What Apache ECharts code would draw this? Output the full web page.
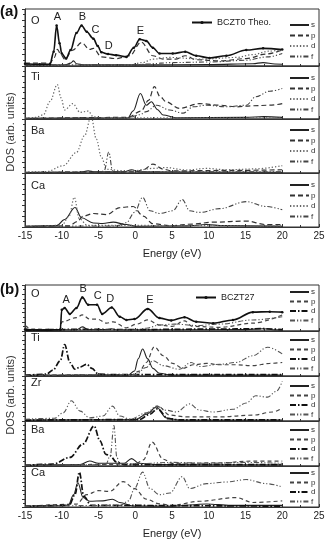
<!DOCTYPE html>
<html lang="en">
<head>
<meta charset="UTF-8">
<script src="https://cdn.jsdelivr.net/npm/echarts@6/dist/echarts.min.js"></script>
<style>
    * { margin: 0; padding: 0; }
    #main { width: 328px; height: 540px; background: #fff; }
</style>
</head>
<body>
<div id="main"></div>
<script>
    // ---- panel (a) BCZT0, [energy eV, DOS] ----
    var aO_tot = [[-15,0.4],[-13,0.3],[-11.6,0.3],[-11.1,2.5],[-10.7,7.1],[-10.3,4],[-10,2.2],[-9.4,1.3],[-8.8,2.8],[-8,5.8],[-7.3,7.1],[-6.6,6],[-5.7,4.8],[-5.1,3.5],[-4.6,2.4],[-3.7,2.1],[-2.6,1.9],[-1.2,1.6],[-0.2,3.2],[0.6,4.7],[1.5,4.4],[2.4,3.2],[3.3,2.2],[5.1,2.2],[6.8,2.5],[8.3,1.8],[10.1,1.4],[12.4,1.8],[15.1,2.8],[17.4,3.1],[20,2.9]];
    var aO_s = [[-15,0.15],[-9.5,0.2],[-8.8,0.5],[-8.4,0.9],[-8,0.4],[-7,0.2],[0,0.2],[10,0.25],[16,0.4],[17.4,0.6],[19,0.35],[20,0.3]];
    var aO_p = [[-15,0.5],[-11.6,0.5],[-11,1.5],[-10.6,2.9],[-10.1,2],[-9.6,1.2],[-8.5,2.8],[-7.3,4.1],[-6.2,2.9],[-5.7,3.1],[-4.6,1.6],[-2.6,1.3],[-0.75,1.8],[0.8,4.2],[2.4,1.8],[3.8,1.2],[5.5,1.2],[6.8,1.8],[8.3,1.1],[11.5,0.9],[15.1,1.3],[17.8,2.1],[20,2.8]];
    var aO_d = [[-15,0.1],[-1,0.15],[1,0.6],[2.4,1.2],[4.7,1.5],[9.2,1.2],[13.7,1.5],[16,2.0],[18.2,2.6],[20,2.9]];
    var aO_f = [[-15,0.2],[0,0.2],[2,0.4],[5,0.6],[10,0.7],[15,1.0],[18,1.6],[20,2.2]];

    var aTi_s = [[-15,0.15],[-1,0.2],[-0.3,1.5],[0.7,4.8],[1.5,2.6],[2.2,3.25],[3,1.8],[3.8,0.75],[5.5,0.25],[15,0.3],[17.5,0.45],[20,0.3]];
    var aTi_p = [[-15,0.1],[-1,0.3],[0.8,1.5],[1.8,3.5],[2.6,6.1],[3.4,4.2],[4.2,3.25],[6.0,2.0],[8.75,2.9],[11.5,2.6],[13.7,2.3],[16,2.5],[18.3,2.6],[20,2.9]];
    var aTi_d = [[-15,0.15],[-13.5,0.3],[-12.5,0.8],[-11.6,3.3],[-10.6,6.5],[-10.1,4],[-9.6,1.7],[-8.5,2.9],[-7.5,1.25],[-6.4,1.5],[-5.7,0.4],[-4,0.2],[0,0.2],[20,0.2]];
    var aTi_f = [[-15,0.1],[-1,0.2],[0.6,0.8],[1.5,1.4],[2.9,2.6],[4.7,1.7],[6.5,1.1],[7.9,2.3],[9.7,2.6],[12.4,2.3],[15.1,2.6],[16.4,4.2],[18.3,5.25],[20,5.75]];

    var aBa_s = [[-15,0.1],[-7.5,0.15],[-6.4,0.4],[-5.5,0.2],[-1.5,0.2],[-0.5,0.6],[0.5,0.2],[20,0.15]];
    var aBa_p = [[-15,0.1],[0,0.2],[1.1,0.6],[2.4,1.65],[3.8,0.7],[5,0.4],[15,0.5],[20,0.6]];
    var aBa_d = [[-15,0.15],[-12.1,0.25],[-9.8,1.35],[-8,3.8],[-6.9,6.9],[-6,10.5],[-5.3,6.3],[-4.6,2.9],[-3.9,0.7],[-2,0.45],[0,0.45],[2.4,0.85],[4.2,1.0],[6.9,0.55],[9.7,0.85],[12.4,0.6],[16.2,0.75],[20,1.35]];
    var aBa_f = [[-15,0.1],[-4.6,0.2],[-4.2,0.5],[-3.6,3.9],[-3.1,0.5],[-2.6,0.2],[20,0.2]];

    var aCa_s = [[-15,0.15],[-10.7,0.25],[-9.6,1.4],[-8.2,3.6],[-7.3,1.7],[-5.7,0.75],[-4.4,0.65],[-3.0,0.9],[-1.2,0.45],[0,0.15],[7,0.2],[9.7,0.45],[12,0.25],[20,0.15]];
    var aCa_p = [[-15,0.1],[-9,0.2],[-7.9,1.0],[-7.1,2.0],[-5.7,2.5],[-3.9,2.3],[-2.1,3.6],[-0.3,3.8],[1.1,2.0],[2.4,0.6],[4.7,0.25],[7.9,0.55],[10.6,0.9],[15.1,1.1],[17.8,0.45],[20,0.45]];
    var aCa_d = [[-15,0.1],[-10,0.3],[-9,2],[-8.3,5.5],[-7.6,1.5],[-6.5,0.3],[20,0.2]];
    var aCa_f = [[-15,0.1],[-2.5,0.2],[-1.2,0.8],[-0.1,2.7],[1.0,5.5],[2.0,3.0],[3.3,2.5],[5.1,3.0],[6.4,5.1],[7.4,3.0],[8.75,2.7],[11.5,3.4],[15.1,4.7],[17.8,3.8],[20,3.2]];

    // ---- panel (b) BCZT27 ----
    var bO_tot = [[-15,0.3],[-12,0.2],[-10.2,0.3],[-10,4.6],[-9.6,5.0],[-8.9,3.7],[-8,5.0],[-7.2,7.3],[-6.4,5.7],[-5.2,5.7],[-4.5,3.7],[-3.2,5.1],[-2.1,3.1],[-1.2,2.4],[-0.1,2.6],[1.7,4.8],[3.3,2.8],[4.9,2.3],[6.7,3.0],[8.3,2.0],[10.6,1.7],[13.3,2.4],[16,4.1],[18.3,4.2],[20,4.1]];
    var bO_s = [[-15,0.2],[-8,0.25],[-7.2,0.9],[-6.4,0.3],[-4,0.3],[-3.2,0.5],[-2.5,0.25],[15,0.3],[17.5,0.5],[19,0.25],[20,0.25]];
    var bO_p = [[-15,1.2],[-14,0.4],[-10.2,0.3],[-10,2.0],[-8.0,2.9],[-7.2,3.5],[-6.2,2.6],[-5.2,2.6],[-3.9,1.7],[-3.0,2.0],[-1.2,0.7],[0.2,1.5],[1.7,2.4],[3.3,1.3],[5,1.0],[6.7,2.2],[7.8,1.0],[11.5,0.8],[16,1.7],[20,3.5]];
    var bO_d = [[-15,0.2],[-7.2,0.35],[0,0.3],[10,0.4],[17.5,0.5],[20,0.3]];
    var bO_f = [[-15,0.6],[-14,0.2],[0,0.2],[1.5,0.6],[3.3,1.3],[5.3,1.5],[8.3,1.2],[11.5,1.5],[16,2.4],[20,3.1]];

    var bTi_s = [[-15,0.15],[-1,0.2],[-0.1,1.1],[0.4,3.8],[1.0,6.0],[1.7,3.8],[2.4,1.7],[3.3,0.6],[5,0.2],[20,0.2]];
    var bTi_p = [[-15,0.15],[-0.5,0.3],[0.6,1.1],[1.5,3.0],[2.6,6.5],[3.8,4.5],[5.1,2.8],[6.5,1.7],[7.9,2.5],[9.7,2.8],[11.5,2.5],[13.7,2.5],[16,2.3],[18.3,2.8],[20,3.0]];
    var bTi_d = [[-15,0.15],[-12.1,0.4],[-11.2,1.3],[-10.2,3.4],[-9.6,7.0],[-8.9,3.0],[-8.2,1.5],[-7.5,2.0],[-6.6,2.6],[-5.9,1.7],[-5.0,0.4],[-3,0.3],[20,0.3]];
    var bTi_f = [[-15,0.15],[0,0.3],[1.5,1.9],[2.4,3.4],[3.8,2.3],[6.0,1.5],[7.6,3.0],[8.75,2.1],[11.5,2.6],[13.7,3.0],[16,4.5],[18,6.4],[20,4.9]];

    var bZr_s = [[-15,0.2],[0,0.3],[1.5,1.5],[2.9,3.1],[4.2,0.7],[6,0.2],[20,0.2]];
    var bZr_p = [[-15,0.15],[0,0.3],[1.8,1.8],[3.1,3.3],[4.7,1.3],[7.0,0.9],[11.5,0.9],[16,1.3],[18.7,2.0],[20,2.9]];
    var bZr_d = [[-15,0.2],[0.5,0.3],[2,1.5],[3,2.7],[4.5,0.5],[6,0.25],[20,0.25]];
    var bZr_f = [[-15,0.4],[-11,0.6],[-9.8,1.8],[-8.7,4.5],[-7.5,2.2],[-6.2,0.7],[-4.4,1.1],[-3.1,3.3],[-2.1,1.1],[-0.7,0.4],[1.5,1.8],[2.9,3.3],[4.2,2.4],[5.6,2.0],[7.4,3.8],[8.75,2.4],[10.6,2.0],[13.3,2.6],[15.1,4.0],[16.4,5.6],[18,5.3],[19.2,6.6],[20,8.8]];

    var bBa_s = [[-15,0.15],[-7.5,0.3],[-6.2,1.1],[-5,0.6],[-3.4,0.6],[-1.5,0.6],[-0.5,1.65],[0.5,0.6],[3,0.3],[20,0.25]];
    var bBa_p = [[-15,0.15],[0,0.4],[1.1,1.35],[2.3,5.3],[3.8,1.5],[5.1,0.6],[11.5,0.7],[16,1.1],[20,1.1]];
    var bBa_d = [[-15,0.15],[-11.2,0.4],[-8.9,1.9],[-7.1,4.9],[-5.6,8.9],[-4.8,5.6],[-4.0,2.6],[-3.4,2.3],[-2.6,0.9],[-1.5,0.3],[20,0.3]];
    var bBa_f = [[-15,0.15],[-4,0.3],[-3.4,2.3],[-2.9,9.0],[-2.5,1.9],[-2.1,0.5],[0,0.5],[5,0.8],[10,0.6],[15,0.8],[20,0.6]];

    var bCa_s = [[-15,0.2],[-10,0.3],[-9.1,0.5],[-8.4,3.0],[-7.8,5.9],[-7.1,2.3],[-6.2,1.4],[-4.4,1.5],[-3.1,1.9],[-2.1,1.1],[-0.3,0.25],[5,0.2],[9.7,0.75],[13,0.4],[20,0.4]];
    var bCa_p = [[-15,0.15],[-8,0.7],[-6.6,3.0],[-5.0,4.0],[-3.5,3.8],[-1.65,6.2],[-0.1,4.5],[1.5,1.9],[3.3,0.75],[5,0.4],[8.75,1.4],[13.7,2.3],[16,1.1],[20,1.5]];
    var bCa_d = [[-15,0.15],[-9,0.4],[-8.2,3.0],[-7.6,8.5],[-7.0,2.6],[-6,0.4],[20,0.2]];
    var bCa_f = [[-15,0.15],[-2,0.4],[-0.9,1.5],[-0.1,4.5],[1.0,8.5],[2.0,4.5],[3.3,3.0],[4.7,3.4],[6.4,7.4],[7.4,4.5],[9.7,5.7],[12.4,6.1],[15.1,6.7],[17.8,5.7],[20,4.9]];

    // peak labels on the O total curves
    var peakNames = ['A', 'B', 'C', 'D', 'E'];
    var peaksA = [[-10.6,7.1],[-7.2,7.1],[-5.4,4.8],[-3.6,2.1],[0.7,4.7]];
    var peaksB = [[-9.4,5.0],[-7.1,7.3],[-5.1,5.7],[-3.4,5.1],[2.0,4.8]];

    var orbitals = ['s', 'p', 'd', 'f'];
    var FONT = 'Liberation Sans, Arial, sans-serif';

    var styleA = {
        s: {type: 'solid', width: 1.1, color: '#222'},
        p: {type: [5, 3], width: 1.2, color: '#333'},
        d: {type: [1.3, 2], width: 1.2, color: '#666'},
        f: {type: [5, 2, 1.2, 2, 1.2, 2], width: 1.1, color: '#444'}
    };
    var styleB = {
        s: {type: 'solid', width: 1.1, color: '#222'},
        p: {type: [4, 3], width: 1.2, color: '#444'},
        d: {type: [6, 2, 1.5, 2], width: 1.7, color: '#111'},
        f: {type: [5, 2, 1.2, 2, 1.2, 2], width: 1.1, color: '#555'}
    };

    var rowsA = [
        {el: 'O',  top: 9,   h: 57, leg: 21,  lab: 15,  lines: [aO_s, aO_p, aO_d, aO_f]},
        {el: 'Ti', top: 66,  h: 53, leg: 74,  lab: 71,  lines: [aTi_s, aTi_p, aTi_d, aTi_f]},
        {el: 'Ba', top: 119, h: 54, leg: 126, lab: 125, lines: [aBa_s, aBa_p, aBa_d, aBa_f]},
        {el: 'Ca', top: 173, h: 54, leg: 181, lab: 180, lines: [aCa_s, aCa_p, aCa_d, aCa_f]}
    ];
    var rowsB = [
        {el: 'O',  top: 285, h: 46, leg: 288, lab: 288, lines: [bO_s, bO_p, bO_d, bO_f]},
        {el: 'Ti', top: 331, h: 45, leg: 336, lab: 332, lines: [bTi_s, bTi_p, bTi_d, bTi_f]},
        {el: 'Zr', top: 376, h: 45, leg: 382, lab: 377, lines: [bZr_s, bZr_p, bZr_d, bZr_f]},
        {el: 'Ba', top: 421, h: 45, leg: 426, lab: 424, lines: [bBa_s, bBa_p, bBa_d, bBa_f]},
        {el: 'Ca', top: 466, h: 45, leg: 469, lab: 467, lines: [bCa_s, bCa_p, bCa_d, bCa_f]}
    ];

    var grids = [], xAxes = [], yAxes = [], series = [], legends = [], graphics = [];

    function addPanel(tag, rows, styles, totalName, totalData, peaks, totalLeg, gap) {
        rows.forEach(function (r, i) {
            var g = grids.length;
            var last = i === rows.length - 1;
            grids.push({left: 25, right: 9, top: r.top, height: r.h, show: true,
                borderColor: '#333', borderWidth: 1, containLabel: false});
            xAxes.push({
                gridIndex: g, type: 'value', min: -15, max: 25, interval: 5,
                axisLine: {onZero: false, lineStyle: {color: '#333', width: 1}},
                axisTick: {show: true, inside: true, length: 3, lineStyle: {color: '#333'}},
                minorTick: {show: true, splitNumber: 2, length: 2, lineStyle: {color: '#333'}},
                splitLine: {show: false},
                axisLabel: {show: last, fontSize: 10, color: '#222', fontFamily: FONT, margin: 4},
                name: last ? 'Energy (eV)' : '', nameLocation: 'middle', nameGap: 21,
                nameTextStyle: {fontSize: 11, color: '#222', fontFamily: FONT}
            });
            yAxes.push({
                gridIndex: g, type: 'value', min: 0, max: 10, interval: 2,
                axisLine: {show: true, onZero: false, lineStyle: {color: '#333'}},
                axisTick: {show: true, length: 3, lineStyle: {color: '#333'}},
                minorTick: {show: true, splitNumber: 2, length: 2, lineStyle: {color: '#333'}},
                axisLabel: {show: false}, splitLine: {show: false}
            });
            var names = [];
            orbitals.forEach(function (o, k) {
                var nm = tag + i + '_' + o;
                names.push(nm);
                series.push({
                    name: nm, type: 'line', xAxisIndex: g, yAxisIndex: g,
                    data: r.lines[k], smooth: 0.35, smoothMonotone: 'x',
                    symbol: 'none', itemStyle: {color: 'rgba(0,0,0,0)'},
                    lineStyle: styles[o], clip: true, animation: false
                });
            });
            legends.push({
                data: names, orient: 'vertical', left: 289, top: r.leg, padding: 0,
                itemWidth: 19, itemHeight: 8, itemGap: gap, selectedMode: false,
                itemStyle: {color: 'rgba(0,0,0,0)', borderWidth: 0},
                formatter: function (n) { return n.split('_')[1]; },
                textStyle: {fontSize: 8, color: '#333', fontFamily: FONT, padding: [0, 0, 0, -3]}
            });
            graphics.push({type: 'text', left: 31, top: r.lab,
                style: {text: r.el, fill: '#222', font: '11px ' + FONT}});
        });
        var g0 = grids.length - rows.length;
        series.push({
            name: totalName, type: 'line', xAxisIndex: g0, yAxisIndex: g0,
            data: totalData, smooth: 0.35, smoothMonotone: 'x',
            symbol: 'circle', symbolSize: 2.5, showSymbol: true,
            itemStyle: {color: '#111'}, lineStyle: {color: '#111', width: 1.6},
            clip: true, animation: false, z: 5,
            markPoint: {
                symbol: 'circle', symbolSize: 0,
                label: {show: true, position: 'top', distance: 3, formatter: '{b}',
                    fontSize: 11, color: '#222', fontFamily: FONT},
                data: peaks.map(function (p, k) { return {name: peakNames[k], coord: p}; })
            }
        });
        legends.push({
            data: [totalName], left: totalLeg[0], top: totalLeg[1], padding: 0,
            itemWidth: 20, itemHeight: 4, selectedMode: false,
            textStyle: {fontSize: 9, color: '#222', fontFamily: FONT}
        });
    }

    addPanel('a', rowsA, styleA, 'BCZT0 Theo.', aO_tot, peaksA, [191, 18], 2.5);
    addPanel('b', rowsB, styleB, 'BCZT27', bO_tot, peaksB, [195, 293], 1.5);

    graphics.push({type: 'text', left: 0, top: 4,
        style: {text: '(a)', font: 'bold 15px ' + FONT, fill: '#111'}});
    graphics.push({type: 'text', left: 0, top: 282,
        style: {text: '(b)', font: 'bold 15px ' + FONT, fill: '#111'}});
    graphics.push({type: 'text', x: 11, y: 132, rotation: Math.PI / 2,
        style: {text: 'DOS (arb. units)', font: '11px ' + FONT, fill: '#333',
            align: 'center', verticalAlign: 'middle', textAlign: 'center', textVerticalAlign: 'middle'}});
    graphics.push({type: 'text', x: 11, y: 395, rotation: Math.PI / 2,
        style: {text: 'DOS (arb. units)', font: '11px ' + FONT, fill: '#333',
            align: 'center', verticalAlign: 'middle', textAlign: 'center', textVerticalAlign: 'middle'}});

    var myChart = echarts.init(document.getElementById('main'), null, {renderer: 'canvas'});
    myChart.setOption({
        animation: false,
        backgroundColor: '#fff',
        grid: grids,
        xAxis: xAxes,
        yAxis: yAxes,
        legend: legends,
        graphic: graphics,
        series: series
    });
</script>
</body>
</html>
